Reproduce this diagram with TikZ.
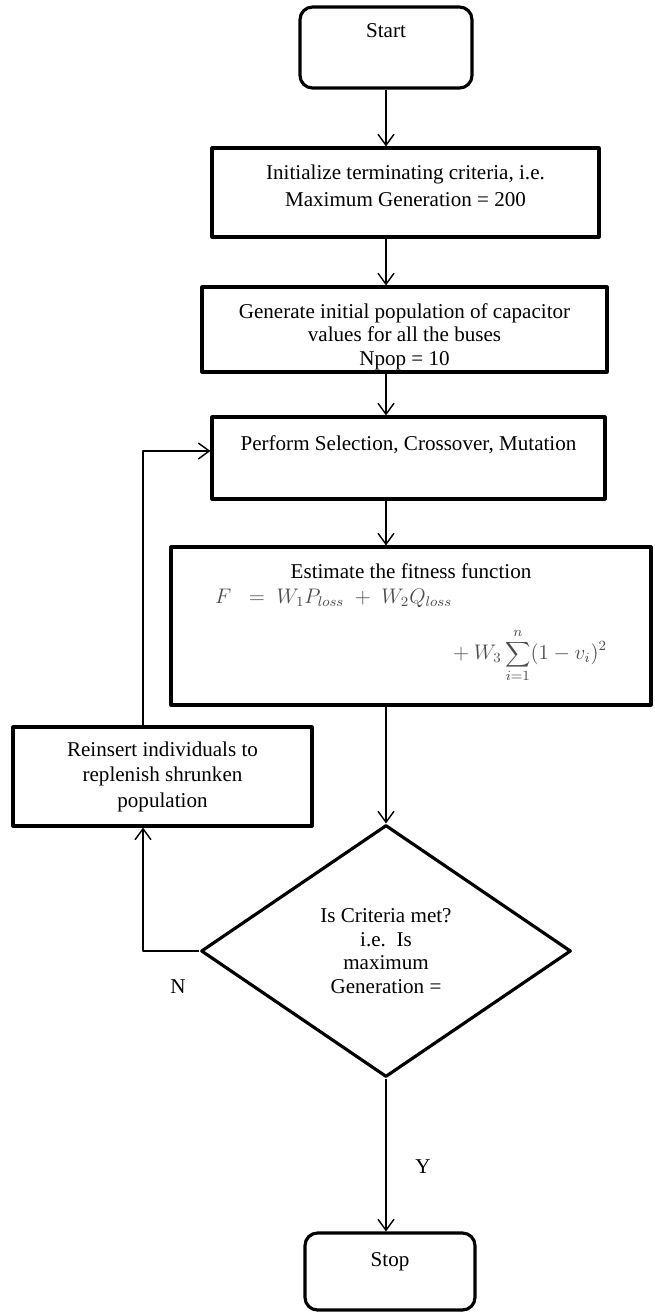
\documentclass[tikz,border=0pt]{standalone}
\usepackage{fontspec}
\setmainfont{Liberation Serif}
\usetikzlibrary{shapes.geometric,arrows.meta}
\begin{document}
\begin{tikzpicture}[x=0.02cm, y=-0.02cm, >={Straight Barb[length=2.2mm,width=3.2mm]}, font=\fontsize{12}{13.5}\selectfont, line join=round,
  hop/.style={draw, line width=1.8pt, inner sep=0pt, align=center},
  khung/.style={hop, rounded corners=0.25cm},
  thoi/.style={draw, line width=1.8pt, diamond, inner sep=0pt, align=center, aspect=1.47},
  noi/.style={->, line width=0.8pt}]
\useasboundingbox (0,0) rectangle (655,1316);
\coordinate (truc) at (386,0); % trục giữa
% Các khối
\node[khung, minimum width=3.44cm, text height=0.6cm, text depth=1.02cm] (batdau) at (386,47.5) {Start};
\node[hop, minimum width=7.74cm, minimum height=1.78cm] (khoitao) at (405.5,192.5) {Initialize terminating criteria, i.e.\\[2pt] Maximum Generation = 200\\[-6pt]\mbox{}};
\node[hop, minimum width=8.1cm, minimum height=1.7cm] (sinh) at (404.5,329.5) {\mbox{}\\[3pt]Generate initial population of capacitor\\ values for all the buses\\ Npop = 10};
\node[hop, minimum width=7.86cm, text height=0.66cm, text depth=0.98cm] (laitao) at (408.5,458) {Perform Selection, Crossover, Mutation};
% Khối đánh giá + hàm thích nghi
\node[hop, minimum width=9.6cm, minimum height=3.16cm] (danhgia) at (411,626) {Estimate the fitness function\\[1pt]
  \makebox[7.84cm][l]{\color{black!70}$F\;\;=\;W_1P_{loss}\;+\;W_2Q_{loss}$}\\[11pt]
  \makebox[7.84cm][r]{\color{black!70}$\displaystyle {}+W_3\sum_{i=1}^{n}(1-v_i)^2$}\\[3pt]\mbox{}};
\node[hop, minimum width=5.98cm, minimum height=1.98cm] (bosung) at (162.5,776.5) {Reinsert individuals to\\[1pt] replenish shrunken\\[1pt] population};
\node[thoi, minimum width=7.4cm, minimum height=5.04cm] (dieukien) at (386,951) {Is Criteria met?\\ i.e.\ \ Is\\ maximum\\ Generation =};
\node[khung, minimum width=3.4cm, text height=0.66cm, text depth=0.88cm] (ketthuc) at (390,1271.5) {Stop};
% Nhãn nhánh
\node (nhanN) at (178,987) {N};
\node (nhanY) at (423,1167) {Y};
% Các mũi tên
\draw[noi] (batdau.south) -- (batdau.south |- khoitao.north);
\draw[noi] (khoitao.south -| truc) -- (sinh.north -| truc);
\draw[noi] (sinh.south -| truc) -- (laitao.north -| truc);
\draw[noi] (laitao.south -| truc) -- (danhgia.north -| truc);
\draw[noi] (danhgia.south -| truc) -- (dieukien.north);
\draw[noi] (dieukien.south) -- (ketthuc.north -| dieukien.south);
\draw[noi] (dieukien.west) -| ([xshift=-0.39cm]bosung.south);
\draw[noi] ([xshift=-0.39cm]bosung.north) |- ([yshift=0.14cm]laitao.west);
\end{tikzpicture}
\end{document}
